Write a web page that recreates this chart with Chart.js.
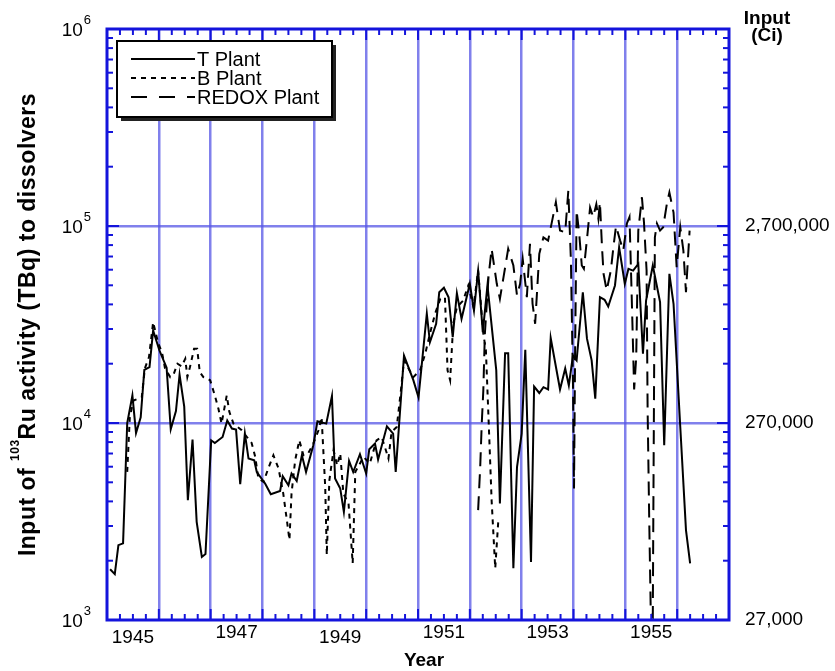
<!DOCTYPE html>
<html>
<head>
<meta charset="utf-8">
<script src="https://cdn.jsdelivr.net/npm/chart.js@4.4.1/dist/chart.umd.min.js"></script>
<style>
  html, body { margin: 0; padding: 0; background: #fff; }
</style>
</head>
<body>
<canvas id="chart" width="835" height="671"></canvas>
<script>
// T Plant
const tYears = [1945.06,1945.15,1945.22,1945.31,1945.39,1945.49,1945.56,1945.65,1945.72,1945.82,1945.89,
  1946.01,1946.15,1946.23,1946.33,1946.40,1946.49,1946.56,1946.65,1946.73,1946.83,1946.90,
  1947.01,1947.08,1947.23,1947.32,1947.41,1947.49,1947.57,1947.66,1947.73,1947.84,1947.89,
  1948.05,1948.16,1948.34,1948.39,1948.50,1948.56,1948.66,1948.76,1948.84,1948.98,
  1949.06,1949.23,1949.34,1949.40,1949.50,1949.57,1949.67,1949.75,1949.88,1950.00,
  1950.06,1950.17,1950.23,1950.40,1950.52,1950.57,1950.73,1950.91,
  1951.01,1951.17,1951.23,1951.35,1951.41,1951.50,1951.59,1951.67,1951.75,1951.84,
  1952.00,1952.08,1952.16,1952.25,1952.34,1952.51,1952.58,1952.68,1952.74,1952.84,1952.91,
  1953.00,1953.07,1953.18,1953.24,1953.34,1953.42,1953.51,1953.56,1953.74,1953.84,1953.91,1953.99,
  1954.06,1954.18,1954.26,1954.35,1954.42,1954.51,1954.60,1954.67,1954.80,1954.88,1954.99,
  1955.06,1955.15,1955.25,1955.34,1955.40,1955.53,1955.67,1955.75,1955.85,1955.93,
  1956.06,1956.17,1956.25];
const tValues = [1810,1710,2400,2450,10000,13800,8900,10700,18600,19200,29500,
  23400,19100,9300,11500,17600,12100,4060,8240,3150,2090,2160,
  8170,7920,8490,10300,9370,9260,4890,8840,6600,6470,5640,
  4930,4350,4520,5370,4830,5540,5080,6860,5640,7710,
  10200,9930,13700,5230,4650,3540,6420,5640,6940,5540,
  7360,7860,6530,9620,8840,5640,22000,16500,
  13500,35900,25700,31900,46100,48600,43500,27300,45600,33800,
  50900,37300,59400,28900,49900,18500,3900,22600,22600,1830,5980,
  8840,23500,1970,15300,14200,15200,14800,27000,14800,18900,15500,22000,
  20800,46100,26800,20800,13300,43500,42200,39000,49900,78000,50900,
  60600,59400,64200,22500,41800,63000,41100,7710,57200,40300,
  9550,2860,1940];

// B Plant
const bYears = [1945.39,1945.44,1945.51,1945.67,1945.73,1945.81,1945.89,1945.99,
  1946.06,1946.12,1946.22,1946.29,1946.36,1946.44,1946.51,1946.55,1946.60,1946.68,1946.74,1946.79,1946.86,1946.99,
  1947.08,1947.15,1947.21,1947.31,1947.36,1947.44,1947.60,1947.70,1947.79,1947.86,1947.92,
  1948.02,1948.11,1948.21,1948.31,1948.40,1948.47,1948.52,1948.56,1948.63,1948.71,1948.79,1948.88,1948.98,
  1949.08,1949.14,1949.21,1949.24,1949.29,1949.37,1949.44,1949.50,1949.56,1949.66,1949.74,1949.79,1949.95,
  1950.07,1950.20,1950.30,1950.43,1950.49,1950.59,1950.67,1950.73,1950.91,
  1951.04,1951.14,1951.23,1951.33,1951.43,1951.52,1951.57,1951.62,1951.68,1951.75,1951.87,1951.97,
  1952.07,1952.16,1952.26,1952.31,1952.36,1952.42,1952.49,1952.55];
const bValues = [5650,10700,13000,13500,18900,21600,32500,25300,
  22900,18900,17100,17800,20000,19400,21200,17100,19200,23800,23800,18100,17100,16500,
  13800,11800,9930,13800,11400,9930,9180,8490,7920,6730,5230,
  5020,5870,6860,5870,4390,3210,2550,4390,6470,8170,6860,7000,7860,
  9180,10700,4740,2140,5120,7270,6100,7000,4390,3900,1940,5640,6730,
  6220,8170,8490,6600,9000,9550,14600,20800,17100,
  18500,22500,28400,35900,42700,43500,18500,16500,31900,38700,41800,49900,
  38700,59400,28400,23400,10700,4060,1830,3210];

// REDOX Plant
const rYears = [1952.16,1952.20,1952.23,1952.26,1952.29,1952.36,1952.42,1952.52,1952.58,1952.65,1952.74,1952.84,1952.91,1952.97,
  1953.02,1953.10,1953.16,1953.21,1953.26,1953.34,1953.42,1953.51,1953.66,1953.74,1953.84,1953.90,1953.95,1953.99,
  1954.01,1954.03,1954.06,1954.11,1954.16,1954.20,1954.27,1954.32,1954.38,1954.44,1954.48,1954.51,1954.55,1954.58,
  1954.64,1954.72,1954.77,1954.82,1954.90,1954.96,
  1955.03,1955.08,1955.12,1955.17,1955.21,1955.25,1955.32,1955.36,1955.41,1955.43,1955.46,1955.49,1955.53,1955.54,
  1955.57,1955.61,1955.67,1955.73,1955.80,1955.85,1955.93,1955.99,
  1956.06,1956.12,1956.17,1956.24];
const rValues = [3610,5980,9930,14600,28400,55000,76600,50900,42700,55000,76600,63000,44400,50900,
  68100,43500,81200,40300,31900,72200,87600,84300,132000,94800,92900,151000,66800,15800,
  4650,21600,120000,91200,63000,60600,91200,124000,111000,129000,109000,132000,78000,57200,
  47100,59400,78000,100000,84300,75000,
  103000,111000,47100,14800,21600,94800,140000,104000,59400,11600,3340,1120,1040,3340,
  87600,103000,94800,98500,129000,148000,117000,61800,
  98500,75000,46100,94800];

const seriesNames = ['T Plant', 'B Plant', 'REDOX Plant'];
const leftTicks = [1e3, 1e4, 1e5, 1e6];
const rightTicks = [27000, 270000, 2700000];
const labelYears = [1945, 1947, 1949, 1951, 1953, 1955];
const lowLabels = [1945, 1949]; // these sit a little lower in the original

const FONT = "'Liberation Sans', Arial, Helvetica, sans-serif";
const GRID = 'rgba(85, 85, 230, 0.75)';
const FRAME = '#1414dc';

Chart.defaults.font.family = FONT;
Chart.defaults.color = '#000';

function pts(xs, ys) {
  return xs.map((x, i) => ({ x: x, y: ys[i] }));
}

const line = (ctx, x1, y1, x2, y2) => {
  ctx.beginPath(); ctx.moveTo(x1, y1); ctx.lineTo(x2, y2); ctx.stroke();
};

const decorPlugin = {
  id: 'decor',
  afterDraw(chart) {
    const { ctx, chartArea: a, scales } = chart;
    const xs = scales.x, ys = scales.y;
    ctx.save();

    // inward tick marks
    ctx.strokeStyle = FRAME;
    ctx.lineWidth = 2;
    for (let q = 0; q <= 48; q++) {
      const px = xs.getPixelForValue(1945 + q / 4);
      const len = q % 4 === 0 ? 11 : 6;
      line(ctx, px, a.bottom, px, a.bottom - len);
      line(ctx, px, a.top, px, a.top + len);
    }
    for (let e = 3; e < 6; e++) {
      for (let k = 1; k < 10; k++) {
        const py = ys.getPixelForValue(k * Math.pow(10, e));
        const len = k === 1 ? 12 : 6;
        line(ctx, a.left, py, a.left + len, py);
        line(ctx, a.right, py, a.right - len, py);
      }
    }
    ctx.lineWidth = 3;
    ctx.strokeRect(a.left, a.top, a.right - a.left, a.bottom - a.top);

    // left tick labels 10^n
    ctx.fillStyle = '#000';
    ctx.textBaseline = 'alphabetic';
    leftTicks.forEach(v => {
      const py = ys.getPixelForValue(v);
      const ex = String(Math.round(Math.log10(v)));
      ctx.font = '13px ' + FONT;
      const we = ctx.measureText(ex).width;
      ctx.textAlign = 'right';
      ctx.fillText(ex, 91, py - 5);
      ctx.font = '19px ' + FONT;
      ctx.fillText('10', 91 - we - 1, py + 7);
    });

    // left axis title with superscript
    const p1 = 'Input of ', sup = '103', p2 = 'Ru activity (TBq) to dissolvers';
    ctx.save();
    ctx.letterSpacing = '0.5px';
    ctx.font = 'bold 23px ' + FONT;
    const w1 = ctx.measureText(p1).width, w2 = ctx.measureText(p2).width;
    ctx.font = 'bold 12px ' + FONT;
    const ws = ctx.measureText(sup).width;
    const total = w1 + ws + w2;
    ctx.translate(35, (a.top + a.bottom) / 2);
    ctx.rotate(-Math.PI / 2);
    ctx.textAlign = 'left';
    const x0 = -total / 2;
    ctx.font = 'bold 23px ' + FONT;
    ctx.fillText(p1, x0, 0);
    ctx.font = 'bold 12px ' + FONT;
    ctx.fillText(sup, x0 + w1, -16);
    ctx.font = 'bold 23px ' + FONT;
    ctx.fillText(p2, x0 + w1 + ws, 0);
    ctx.restore();

    // x title and right title
    ctx.font = 'bold 19px ' + FONT;
    ctx.textAlign = 'center';
    ctx.textBaseline = 'middle';
    ctx.fillText('Year', 424, 661);
    ctx.fillText('Input', 767, 19);
    ctx.fillText('(Ci)', 767, 36);

    // legend box
    const L = 117, T = 41, W = 215, H = 76;
    ctx.fillStyle = '#222';
    ctx.fillRect(L + 4, T + 4, W, H);
    ctx.fillStyle = '#fff';
    ctx.fillRect(L, T, W, H);
    ctx.strokeStyle = '#000';
    ctx.lineWidth = 2;
    ctx.strokeRect(L, T, W, H);
    chart.data.datasets.forEach((ds, i) => {
      const ry = 59 + i * 19;
      ctx.strokeStyle = '#000';
      ctx.lineWidth = 2;
      ctx.setLineDash(ds.legendDash);
      line(ctx, 131, ry, 195, ry);
      ctx.setLineDash([]);
      ctx.fillStyle = '#000';
      ctx.font = '20px ' + FONT;
      ctx.textAlign = 'left';
      ctx.textBaseline = 'middle';
      ctx.fillText(ds.label, 197, ry + 1);
    });
    ctx.restore();
  }
};

new Chart(document.getElementById('chart'), {
  type: 'scatter',
  data: {
    datasets: [
      { label: seriesNames[0], data: pts(tYears, tValues), borderDash: [], legendDash: [] },
      { label: seriesNames[1], data: pts(bYears, bValues), borderDash: [5, 5], legendDash: [5, 5] },
      { label: seriesNames[2], data: pts(rYears, rValues), borderDash: [14, 8], legendDash: [16, 12] }
    ].map(d => Object.assign(d, {
      showLine: true, borderColor: '#000', borderWidth: 2, pointRadius: 0, tension: 0, fill: false
    }))
  },
  options: {
    responsive: false,
    animation: false,
    layout: { padding: { top: 29, left: 0, right: 0, bottom: 0 } },
    plugins: { legend: { display: false }, tooltip: { enabled: false } },
    scales: {
      x: {
        type: 'linear', min: 1945, max: 1957,
        afterBuildTicks: s => {
          const t = [];
          for (let v = 1945; v <= 1957; v += 0.5) t.push({ value: v });
          s.ticks = t;
        },
        afterFit: s => { s.height = 51; },
        grid: {
          color: c => (c.tick && Number.isInteger(c.tick.value) && c.tick.value > 1945 && c.tick.value < 1957) ? GRID : 'rgba(0,0,0,0)',
          lineWidth: 2.5, drawTicks: false
        },
        border: { display: false },
        ticks: {
          autoSkip: false, maxRotation: 0, padding: 1, color: '#000',
          font: c => ({ size: 19, lineHeight: (c.tick && lowLabels.includes(c.tick.value - 0.5)) ? 1.73 : 1.2 }),
          callback: v => labelYears.includes(v - 0.5) ? String(v - 0.5) : ''
        }
      },
      y: {
        type: 'logarithmic', position: 'left', min: 1e3, max: 1e6,
        afterBuildTicks: s => { s.ticks = leftTicks.map(v => ({ value: v })); },
        afterFit: s => { s.width = 107; },
        grid: {
          color: c => (c.tick && (c.tick.value === 1e4 || c.tick.value === 1e5)) ? GRID : 'rgba(0,0,0,0)',
          lineWidth: 2.5, drawTicks: false
        },
        border: { display: false },
        ticks: { display: false }
      },
      y2: {
        type: 'logarithmic', position: 'right', min: 27000, max: 2.7e7,
        afterBuildTicks: s => { s.ticks = rightTicks.map(v => ({ value: v })); },
        afterFit: s => { s.width = 106; },
        grid: { display: false, drawTicks: false },
        border: { display: false },
        ticks: {
          padding: 16, color: '#000', font: { size: 19 },
          callback: v => Number(v).toLocaleString('en-US')
        }
      }
    }
  },
  plugins: [decorPlugin]
});
</script>
</body>
</html>
